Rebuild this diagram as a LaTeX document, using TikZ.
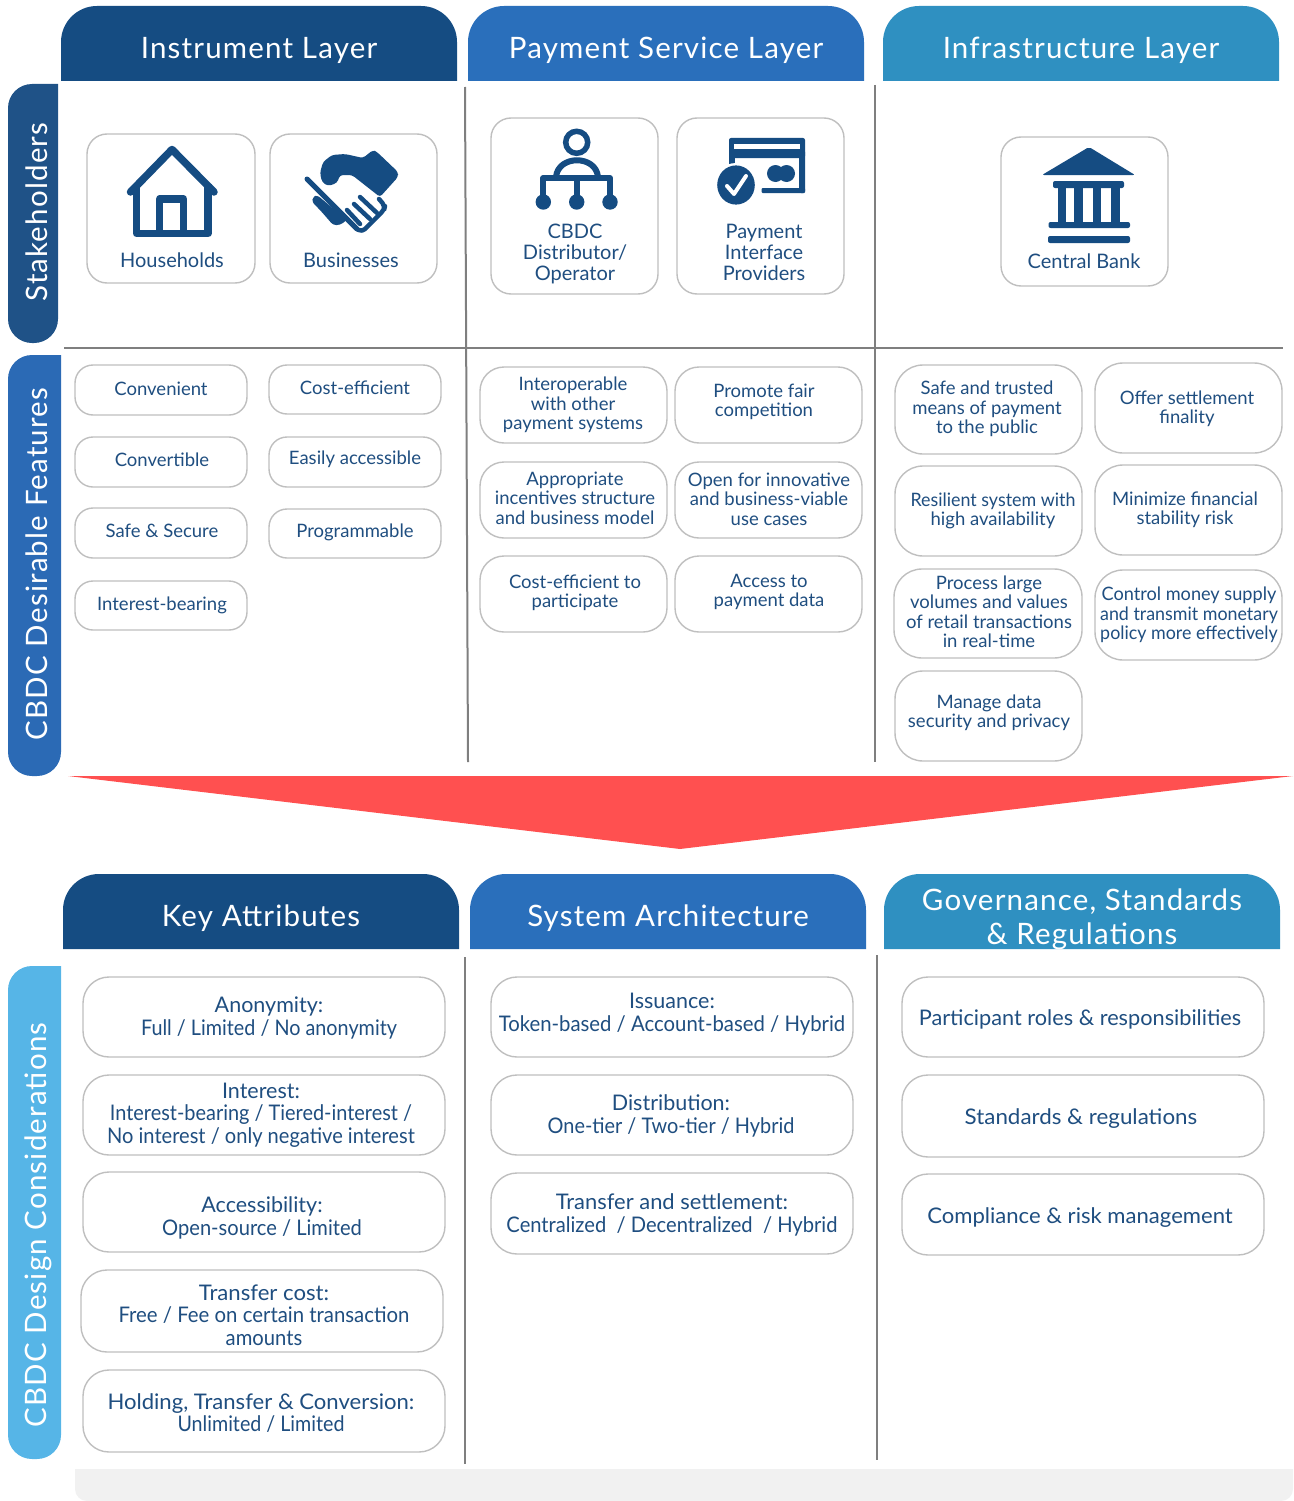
\documentclass[tikz,border=0pt]{standalone}
\usepackage{graphicx}
\usepackage{fontspec}
\setmainfont{Lato}
\newfontfamily\hdfont[LetterSpace=4]{Lato}
\newcommand\sx[2]{\scalebox{#1}[1]{#2}}
\definecolor{cDark}{HTML}{154C82}
\definecolor{cMid}{HTML}{2A6FBB}
\definecolor{cLight}{HTML}{2F90C1}
\definecolor{cSideA}{HTML}{1F5287}
\definecolor{cSideB}{HTML}{2B6AB5}
\definecolor{cSideC}{HTML}{56B5E7}
\definecolor{cText}{HTML}{1F4E80}
\definecolor{cLine}{HTML}{BFBFBF}
\definecolor{cRule}{HTML}{7F7F7F}
\definecolor{cRed}{HTML}{FF5050}
\definecolor{cBand}{HTML}{F1F1F1}
\tikzset{
  boxshape/.style={draw=cLine,line width=1.4pt,fill=white,inner sep=0pt,outer sep=0pt},
  lblA/.style={text=cText,align=center,inner sep=0pt,font=\fontsize{18.5}{19.5}\selectfont},
  lblB/.style={text=cText,align=center,inner sep=0pt,font=\fontsize{21.5}{22.5}\selectfont},
  lblC/.style={text=cText,align=center,inner sep=0pt,font=\fontsize{20}{21}\selectfont},
  hdtext/.style={text=white,align=center,inner sep=0pt,font=\hdfont\fontsize{29.5}{34}\selectfont},
  sidetext/.style={text=white,rotate=90,inner sep=0pt,font=\hdfont\fontsize{29.5}{34}\selectfont},
  rulev/.style={draw=cRule,line width=2pt},
  iconline/.style={draw=cDark,line width=7.5pt,line join=round,line cap=round},
}
% name x1 y1 x2 y2 radius textx texty style text
\newcommand\bx[9]{%
  \node[boxshape,rounded corners=#6,minimum width={(#4)-(#2)},minimum height={(#5)-(#3)}] (#1) at ({((#2)+(#4))/2},{((#3)+(#5))/2}) {};
  \node[#9] (#1t) at (#7,#8) }
\newcommand\hdr[7]{% name x1 y1 x2 y2 color texty
  \fill[#6,rounded corners=36] (#2,#5) [sharp corners] -- (#2,#3+40) [rounded corners=36] -- (#2,#3) -- (#4,#3) [sharp corners] -- (#4,#3+40) -- (#4,#5) -- cycle;
  \node[hdtext] (#1) at ({((#2)+(#4))/2},#7) }
\newcommand\sidebar[8]{% name x1 y1 x2 y2 color textx texty
  \fill[#6,rounded corners=24] (#4,#3) -- (#2,#3) -- (#2,#5) -- (#4,#5) [sharp corners] -- cycle;
  \node[sidetext] (#1) at (#7,#8) }
\begin{document}
\begin{tikzpicture}[x=1pt,y=-1pt]
\useasboundingbox (0,0) rectangle (1293,1501);
% bottom band
\fill[cBand,rounded corners=12] (75,1469) -- (75,1501) -- (1293,1501) [sharp corners] -- (1293,1469) -- cycle;
% headers
\hdr{hInstr}{61}{6}{457}{81}{cDark}{50}{Instrument Layer};
\hdr{hPay}{468}{6}{864}{81}{cMid}{50}{Payment Service Layer};
\hdr{hInfra}{883}{6}{1279}{81}{cLight}{50}{Infrastructure Layer};
\hdr{hKey}{63}{874}{459}{949}{cDark}{918}{Key Attributes};
\hdr{hSys}{470}{874}{866}{949}{cMid}{918}{System Architecture};
\hdr{hGov}{884}{874}{1280}{949}{cLight}{919}{Governance, Standards\\\& Regulations};
% sidebars
\sidebar{sStake}{8}{84}{58}{343}{cSideA}{37}{212}{Stakeholders};
\sidebar{sFeat}{8}{355}{61}{776}{cSideB}{37}{564}{CBDC Desirable Features};
\sidebar{sDesign}{8}{966}{61}{1459}{cSideC}{38}{1225}{CBDC Design Considerations};
% dividers
\coordinate (d1a) at (465,87); \coordinate (d1b) at (468,762);
\coordinate (d2a) at (875,85); \coordinate (d2b) at (875,762);
\coordinate (d3a) at (64,348); \coordinate (d3b) at (1283,348);
\coordinate (d4a) at (465,957); \coordinate (d4b) at (465,1464);
\coordinate (d5a) at (877,955); \coordinate (d5b) at (877,1460);
\foreach \p/\q in {d1a/d1b,d2a/d2b,d3a/d3b,d4a/d4b,d5a/d5b} \draw[rulev] (\p) -- (\q);
% arrow
\fill[cRed] (68,776) -- (1293,776) -- (680,849) -- cycle;
% stakeholders
\bx{bHouse}{87}{134}{255}{283}{20}{172}{260}{lblC}{Households};
\bx{bBus}{270}{134}{437}{283}{20}{351}{260}{lblC}{Businesses};
\bx{bDist}{491}{118}{658}{294}{20}{575}{254}{lblC}{CBDC\\Distributor/\\Operator};
\bx{bPIP}{677}{118}{844}{294}{20}{764}{252}{lblC}{Payment\\Interface\\Providers};
\bx{bCB}{1001}{137}{1168}{286}{20}{1084}{261}{lblC}{Central Bank};
% features col 1
\bx{f1}{75}{365}{247}{415}{18}{161}{389}{lblA}{Convenient};
\bx{f2}{269}{365}{441}{414}{18}{355}{388}{lblA}{Cost-efficient};
\bx{f3}{75}{437}{247}{487}{18}{162}{460}{lblA}{Convertible};
\bx{f4}{269}{437}{441}{487}{18}{355}{459}{lblA}{Easily accessible};
\bx{f5}{75}{508}{247}{558}{18}{162}{531}{lblA}{Safe \& Secure};
\bx{f6}{269}{509}{441}{558}{18}{355}{532}{lblA}{Programmable};
\bx{f7}{75}{581}{247}{630}{18}{162}{605}{lblA}{Interest-bearing};
% features col 2
\bx{g1}{480}{367}{667}{443}{24}{573}{405}{lblA}{Interoperable\\with other\\payment systems};
\bx{g2}{675}{367}{862}{443}{24}{764}{402}{lblA}{Promote fair\\competition};
\bx{g3}{480}{462}{667}{538}{24}{575}{498}{lblA}{Appropriate\\incentives structure\\and business model};
\bx{g4}{675}{462}{862}{538}{24}{769}{499}{lblA}{Open for innovative\\and business-viable\\use cases};
\bx{g5}{480}{556}{667}{632}{24}{575}{593}{lblA}{Cost-efficient to\\participate};
\bx{g6}{675}{556}{862}{632}{24}{769}{592}{lblA}{Access to\\payment data};
% features col 3
\bx{k1}{895}{365}{1082}{454}{28}{987}{409}{lblA}{Safe and trusted\\means of payment\\to the public};
\bx{k2}{1095}{363}{1282}{453}{28}{1187}{409}{lblA}{Offer settlement\\finality};
\bx{k3}{895}{466}{1082}{556}{28}{993}{511}{lblA}{\sx{.965}{Resilient system with}\\high availability};
\bx{k4}{1095}{465}{1282}{555}{28}{1185}{510}{lblA}{Minimize financial\\stability risk};
\bx{k5}{894}{569}{1082}{658}{28}{989}{612}{lblA}{Process large\\volumes and values\\of retail transactions\\in real-time};
\bx{k6}{1095}{570}{1282}{660}{28}{1189}{615}{lblA}{\sx{.98}{Control money supply}\\\sx{.965}{and transmit monetary}\\\sx{.965}{policy more effectively}};
\bx{k7}{895}{671}{1082}{761}{28}{989}{713}{lblA}{Manage data\\security and privacy};
% key attributes
\bx{a1}{83}{977}{445}{1057}{26}{269}{1018}{lblB}{Anonymity:\\\sx{.92}{Full / Limited / No anonymity}};
\bx{a2}{83}{1075}{445}{1155}{26}{261}{1115}{lblB}{Interest:\\\sx{.926}{Interest-bearing / Tiered-interest /}\\\sx{.933}{No interest / only negative interest}};
\bx{a3}{83}{1172}{445}{1252}{26}{262}{1218}{lblB}{Accessibility:\\\sx{.935}{Open-source / Limited}};
\bx{a4}{81}{1270}{443}{1352}{26}{264}{1315}{lblB}{\sx{1.03}{Transfer cost:}\\\sx{.947}{Free / Fee on certain transaction}\\\sx{.94}{amounts}};
\bx{a5}{83}{1370}{445}{1452}{26}{261}{1413}{lblB}{\sx{1.027}{Holding, Transfer \& Conversion:}\\\sx{.915}{Unlimited / Limited}};
% system architecture
\bx{s1}{491}{977}{853}{1057}{26}{672}{1014}{lblB}{Issuance:\\\sx{.945}{Token-based / Account-based / Hybrid}};
\bx{s2}{491}{1075}{853}{1155}{26}{671}{1116}{lblB}{Distribution:\\\sx{.925}{One-tier / Two-tier / Hybrid}};
\bx{s3}{491}{1173}{853}{1254}{26}{672}{1215}{lblB}{\sx{1.02}{Transfer and settlement:}\\\sx{.937}{Centralized~~/ Decentralized~~/ Hybrid}};
% governance
\bx{t1}{902}{977}{1264}{1057}{26}{1080}{1019}{lblB}{\sx{1.01}{Participant roles \& responsibilities}};
\bx{t2}{902}{1075}{1264}{1157}{26}{1081}{1119}{lblB}{\sx{1.04}{Standards \& regulations}};
\bx{t3}{902}{1174}{1264}{1255}{26}{1080}{1218}{lblB}{\sx{1.027}{Compliance \& risk management}};
% ---- icons ----
% house
\draw[iconline] (130.5,192) -- (172,149.5) -- (214,192);
\draw[iconline,line cap=butt,line join=round] (136.7,184) -- (136.7,233.5) -- (208,233.5) -- (208,184);
\draw[iconline,line cap=butt,line join=round] (159.7,233.5) -- (159.7,199) -- (183.5,199) -- (183.5,233.5);
% handshake
\fill[cDark,rounded corners=3] (320,173) -- (323,162) -- (332,155) -- (345,154) -- (363,158) -- (373,150) -- (377,152) -- (398,172) -- (398,177) -- (380,197) -- (352,175) -- (340,175) -- (337,183) -- (328,186) -- (322,182) -- cycle;
\draw[cDark,line width=5pt,line cap=round] (307,179) -- (357,229);
\fill[cDark,rounded corners=3] (317,195) -- (313,197) -- (312,202) -- (320,210) -- (327,218) -- (333,225) -- (340,225) -- (347,220) -- cycle;
\draw[cDark,line width=4.5pt,line cap=round] (347,210) -- (360,224);
\draw[cDark,line width=4.5pt,line cap=round] (354,204) -- (370,219);
\draw[cDark,line width=4.5pt,line cap=round] (360,197) -- (377,213);
\draw[cDark,line width=4.5pt,line cap=round,line join=round,rounded corners=4] (357,229) -- (362,232) -- (384,210) -- (385,206) -- (379,199);
% network
\draw[cDark,line width=5.5pt] (576.7,142.3) circle [radius=11];
\draw[cDark,line width=6pt] (556,177) .. controls (558,154.7) and (596,154.7) .. (598,177);
\draw[cDark,line width=6pt,line join=round] (543.3,198) -- (543.3,178) -- (610,178) -- (610,198);
\draw[cDark,line width=6pt] (576.7,178) -- (576.7,198);
\foreach \cx in {543.3,576.7,610} \fill[cDark] (\cx,202) circle [radius=7.7];
% card
\fill[cDark,rounded corners=2] (729,138) rectangle (805,158);
\fill[cDark] (729,150) rectangle (735,165);
\fill[cDark,rounded corners=2] (799,150) rectangle (805,193);
\fill[cDark,rounded corners=1] (761.5,188) rectangle (805,193);
\fill[white] (734,143.5) rectangle (800,149);
\fill[white] (736,185) circle [radius=22];
\fill[cDark] (736,185) ellipse [x radius=18.8,y radius=19.6];
\draw[white,line width=4pt,line cap=round,line join=round] (727,186) -- (734,194) -- (746,176);
\fill[cDark] (775.5,173.5) circle [radius=8.5];
\fill[cDark] (786.5,173.5) circle [radius=8.5];
% bank
\fill[cDark,rounded corners=2] (1042,175) -- (1089,147) -- (1135,175) -- cycle;
\fill[cDark,rounded corners=2] (1053,181) rectangle (1124,188);
\fill[cDark] (1058,186) rectangle (1065.5,224);
\fill[cDark] (1074,186) rectangle (1083,224);
\fill[cDark] (1092.5,186) rectangle (1101,224);
\fill[cDark] (1111,186) rectangle (1120,224);
\fill[cDark,rounded corners=2] (1048.5,222) rectangle (1130,228);
\fill[cDark,rounded corners=2] (1048,236) rectangle (1130,243);
\end{tikzpicture}
\end{document}
